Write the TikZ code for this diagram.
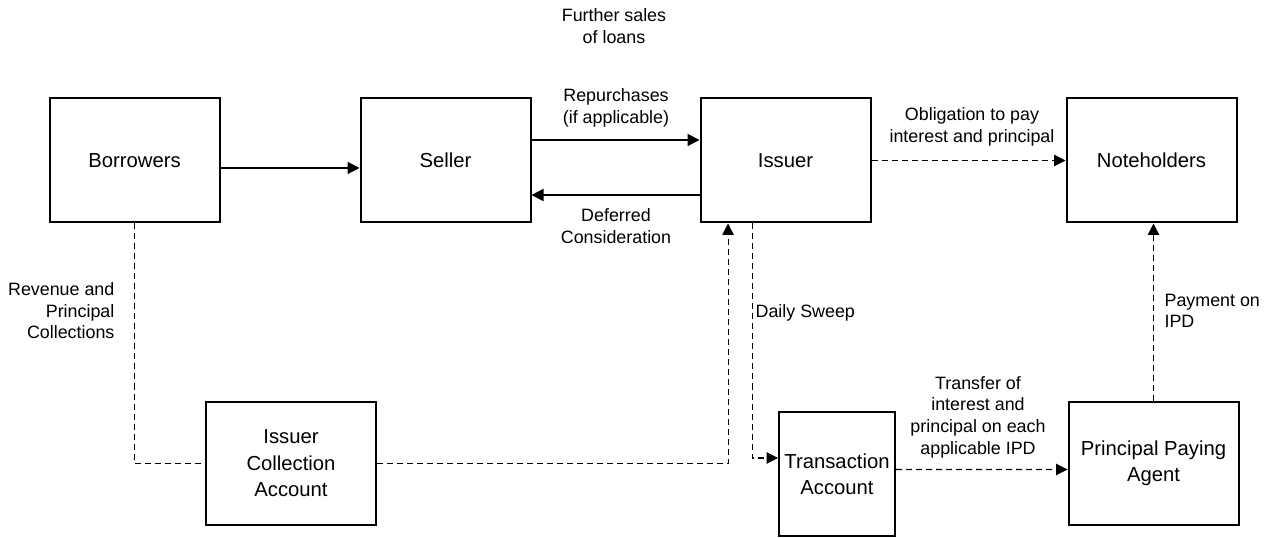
\documentclass[tikz,border=0pt]{standalone}
\usepackage{fontspec}
\setmainfont{Liberation Sans}
\usepackage{tikz}
\usetikzlibrary{arrows.meta, calc}

\begin{document}
\begin{tikzpicture}[
    x=0.75pt, y=-0.75pt,
    entity/.style={rectangle, draw=black, line width=1.5pt, minimum width=127.5pt, minimum height=93pt, inner sep=2pt, align=center, font={\fontsize{15.2}{19.8}\selectfont}},
    note/.style={align=center, inner sep=1pt, font={\fontsize{13.4}{16.2}\selectfont}},
    flow/.style={-{Triangle[length=9pt,width=9pt]}, line width=1.2pt},
    dline/.style={dash pattern=on 4.5pt off 3pt, line width=0.8pt},
    dflow/.style={dline, -{Triangle[length=8.5pt,width=8.5pt]}}
]
    \useasboundingbox (0,0) rectangle (1275,538);

    % Parties
    \node[entity] (borrowers) at (134.5,160.5) {Borrowers};
    \node[entity] (seller) at (445.5,160.5) {Seller};
    \node[entity] (issuer) at (785.5,160.5) {Issuer};
    \node[entity] (noteholders) at (1151.5,160.5) {Noteholders};

    % Accounts
    \node[entity, minimum height=92pt] (collection) at (291,463.5) {Issuer\\Collection\\Account};
    \node[entity, minimum width=87pt] (transaction) at (837,474) {Transaction\\Account};
    \node[entity, minimum height=92pt] (paying) at (1153.5,463.5) {Principal Paying\\Agent};

    % Solid flows
    \draw[flow] ([yshift=-5.6pt]borrowers.east) -- ([yshift=-5.6pt]seller.west);
    \draw[flow] ([yshift=15.4pt]seller.east) -- ([yshift=15.4pt]issuer.west);
    \draw[flow] ([yshift=-25.9pt]issuer.west) -- ([yshift=-25.9pt]seller.east);

    % Dashed flows
    \draw[dflow] (issuer.east) -- (noteholders.west);
    \draw[dline] (borrowers.south) |- (collection.west);
    \draw[dflow] (collection.east) -| ([xshift=-43.1pt]issuer.south);
    \draw[dflow] ([xshift=-25.1pt]issuer.south) |- ([yshift=12pt]transaction.west);
    \draw[dflow] ([yshift=3.4pt]transaction.east) -- ([yshift=-4.5pt]paying.west);
    \draw[dflow] (paying.north) -- (paying.north |- noteholders.south);

    % Labels
    \node[note] (further) at (614,26) {Further sales\\of loans};
    \node[note] (repurchases) at (616,108) {Repurchases\\(if applicable)};
    \node[note] (deferred) at (616,226) {Deferred\\Consideration};
    \node[note] (obligation) at (972,127) {Obligation to pay\\interest and principal};
    \node[note, align=right, anchor=east] (revenue) at (116,311) {Revenue and\\Principal\\Collections};
    \node[note, anchor=west] (sweep) at (754,313) {Daily Sweep};
    \node[note] (transfer) at (978,417) {Transfer of\\interest and\\principal on each\\applicable IPD};
    \node[note, align=left, anchor=west] (payment) at (1163,311) {Payment on\\IPD};
\end{tikzpicture}
\end{document}
